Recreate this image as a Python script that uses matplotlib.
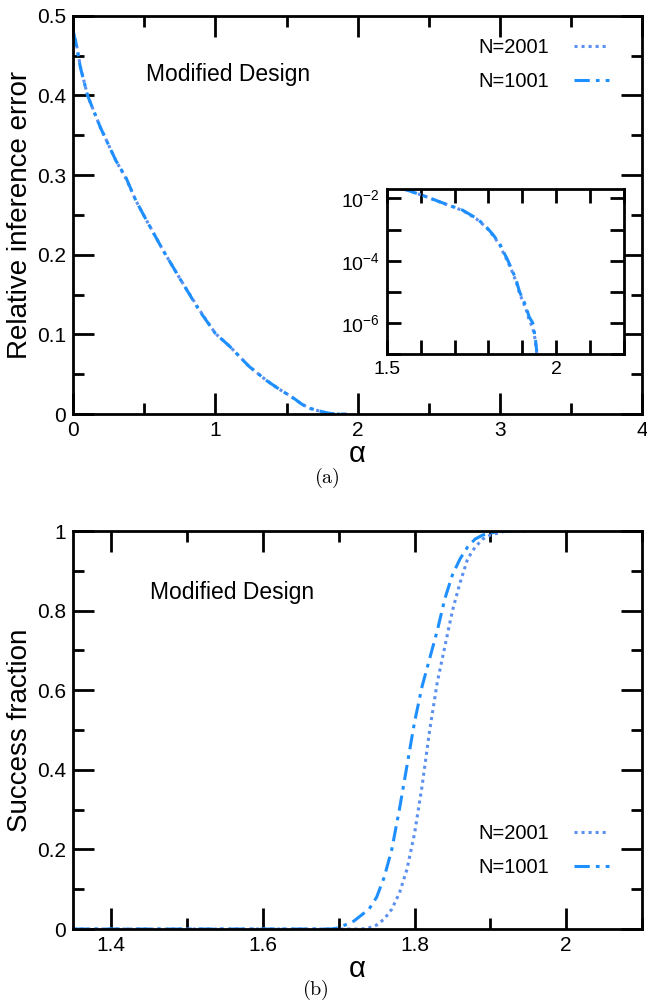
import matplotlib
matplotlib.use('Agg')
import matplotlib.pyplot as plt
from matplotlib.ticker import MultipleLocator, FixedLocator, NullFormatter

plt.rcParams['font.family'] = ['Liberation Sans', 'DejaVu Sans']
plt.rcParams['mathtext.fontset'] = 'cm'

# (a) relative inference error vs alpha
alpha_a = [0.0, 0.02, 0.05, 0.1, 0.19, 0.3, 0.37, 0.44, 0.5, 0.63, 0.75,
           0.886, 1.0, 1.1, 1.235, 1.36, 1.45, 1.514, 1.557, 1.606, 1.665,
           1.724, 1.765, 1.793, 1.813, 1.833, 1.845, 1.857, 1.870, 1.882,
           1.892, 1.90, 1.911, 1.92, 1.931, 1.938, 1.943]
err_1001 = [0.48, 0.465, 0.435, 0.40, 0.36, 0.318, 0.297, 0.268, 0.248,
            0.206, 0.17, 0.13, 0.101, 0.085, 0.060, 0.042, 0.031, 0.024,
            0.019, 0.0125, 7.2e-3, 4.2e-3, 2.3e-3, 1.25e-3, 7.0e-4, 3.6e-4,
            1.9e-4, 1.05e-4, 5.0e-5, 2.4e-5, 1.0e-5, 6.5e-6, 3.4e-6, 1.6e-6,
            1.0e-6, 3.7e-7, 1.2e-7]
err_2001 = [0.48, 0.466, 0.436, 0.40, 0.36, 0.318, 0.296, 0.268, 0.248,
            0.206, 0.17, 0.131, 0.101, 0.085, 0.060, 0.042, 0.031, 0.024,
            0.019, 0.0125, 7.1e-3, 4.1e-3, 2.2e-3, 1.2e-3, 6.6e-4, 3.3e-4,
            1.7e-4, 9.5e-5, 4.5e-5, 2.1e-5, 9.0e-6, 5.5e-6, 2.8e-6, 1.3e-6,
            7.0e-7, 3.0e-7, 1.0e-7]

# (b) success fraction vs alpha
alpha_b = [1.35, 1.60, 1.69, 1.70, 1.72, 1.73, 1.74, 1.75, 1.76, 1.77, 1.78,
           1.79, 1.80, 1.81, 1.82, 1.83, 1.84, 1.85, 1.86, 1.87, 1.88, 1.89,
           1.90, 1.92, 1.95]
succ_1001 = [0.0, 0.0, 0.0, 0.003, 0.02, 0.035, 0.05, 0.08, 0.13, 0.20, 0.30,
             0.41, 0.52, 0.61, 0.68, 0.75, 0.83, 0.89, 0.93, 0.96, 0.98,
             0.99, 0.995, 1.0, 1.0]
succ_2001 = [0.0, 0.0, 0.0, 0.0, 0.0, 0.0, 0.003, 0.01, 0.025, 0.05, 0.09,
             0.15, 0.24, 0.36, 0.50, 0.62, 0.71, 0.80, 0.87, 0.93, 0.96,
             0.98, 0.99, 1.0, 1.0]

c1001 = '#1e8fff'
c2001 = '#5b8ff0'


def style_ax(ax, major=15, minor=8, size=15):
    for s in ax.spines.values():
        s.set_linewidth(2)
    ax.tick_params(which='both', direction='in', top=True, right=True,
                   width=2, labelsize=size, pad=5)
    ax.tick_params(which='major', length=major)
    ax.tick_params(which='minor', length=minor)


def draw_lines(ax, x, y1, y2):
    ax.plot(x, y2, color=c2001, lw=2.2, dashes=[1, 1.3], label='N=2001')
    ax.plot(x, y1, color=c1001, lw=2.2, dashes=[5, 2, 1.2, 2], label='N=1001')


fig = plt.figure(figsize=(6.47, 10.05), dpi=100)

# ---- panel (a)
ax1 = fig.add_axes([0.1133, 0.588, 0.879, 0.3963])
draw_lines(ax1, alpha_a, err_1001, err_2001)
ax1.set_xlim(0, 4)
ax1.set_ylim(0, 0.5)
ax1.xaxis.set_major_locator(MultipleLocator(1))
ax1.xaxis.set_minor_locator(MultipleLocator(0.5))
ax1.yaxis.set_major_locator(FixedLocator([0, 0.1, 0.2, 0.3, 0.4, 0.5]))
ax1.yaxis.set_minor_locator(MultipleLocator(0.05))
ax1.set_yticklabels(['0', '0.1', '0.2', '0.3', '0.4', '0.5'])
style_ax(ax1)
ax1.set_xlabel('α', fontsize=21, labelpad=0)
ax1.set_ylabel('Relative inference error', fontsize=20, labelpad=3)
ax1.text(0.128, 0.835, 'Modified Design', transform=ax1.transAxes,
         fontsize=16.5)
ax1.legend(loc='upper right', bbox_to_anchor=(0.942, 0.945),
           frameon=False, markerfirst=False, fontsize=14.5,
           borderaxespad=0, borderpad=0,
           handlelength=1.75, labelspacing=0.75, handletextpad=1.2)
fig.text(0.505, 0.524, r'$\mathrm{(a)}$', ha='center', va='center',
         fontsize=14.5)

# ---- inset
axin = fig.add_axes([0.598, 0.6478, 0.366, 0.164])
draw_lines(axin, alpha_a, err_1001, err_2001)
axin.set_yscale('log')
axin.set_xlim(1.5, 2.2)
axin.set_ylim(1e-7, 10 ** -1.7)
axin.xaxis.set_major_locator(FixedLocator([1.5, 2.0]))
axin.xaxis.set_minor_locator(MultipleLocator(0.1))
axin.set_xticklabels(['1.5', '2'])
axin.yaxis.set_major_locator(FixedLocator([1e-6, 1e-4, 1e-2]))
axin.yaxis.set_minor_locator(FixedLocator([1e-7, 1e-5, 1e-3]))
axin.yaxis.set_minor_formatter(NullFormatter())
style_ax(axin, major=10, minor=10, size=14)

# ---- panel (b)
ax2 = fig.add_axes([0.1133, 0.0756, 0.879, 0.396])
draw_lines(ax2, alpha_b, succ_1001, succ_2001)
ax2.set_xlim(1.35, 2.1)
ax2.set_ylim(0, 1)
ax2.xaxis.set_major_locator(FixedLocator([1.4, 1.6, 1.8, 2.0]))
ax2.xaxis.set_minor_locator(FixedLocator([1.5, 1.7, 1.9, 2.1]))
ax2.set_xticklabels(['1.4', '1.6', '1.8', '2'])
ax2.yaxis.set_major_locator(FixedLocator([0, 0.2, 0.4, 0.6, 0.8, 1.0]))
ax2.yaxis.set_minor_locator(MultipleLocator(0.1))
ax2.set_yticklabels(['0', '0.2', '0.4', '0.6', '0.8', '1'])
style_ax(ax2)
ax2.set_xlabel('α', fontsize=21, labelpad=0)
ax2.set_ylabel('Success fraction', fontsize=20, labelpad=3)
ax2.text(0.135, 0.83, 'Modified Design', transform=ax2.transAxes,
         fontsize=16.5)
ax2.legend(loc='lower right', bbox_to_anchor=(0.942, 0.131),
           frameon=False, markerfirst=False, fontsize=14.5,
           borderaxespad=0, borderpad=0,
           handlelength=1.75, labelspacing=0.75, handletextpad=1.2)
fig.text(0.487, 0.015, r'$\mathrm{(b)}$', ha='center', va='center',
         fontsize=14.5)

fig.savefig('out.png', dpi=100)
